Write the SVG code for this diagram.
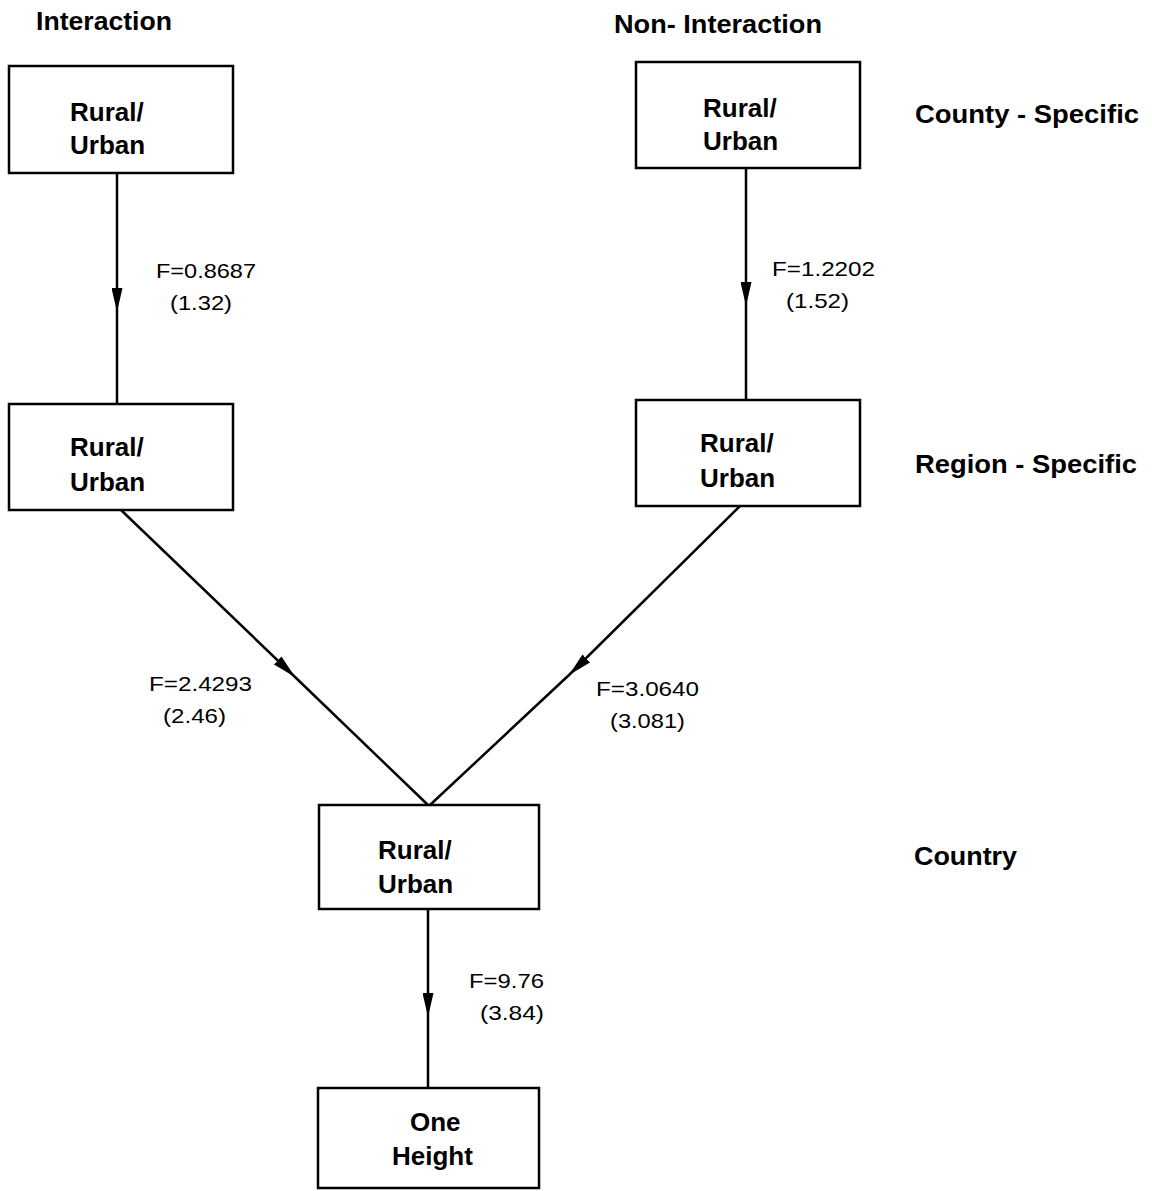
<svg xmlns="http://www.w3.org/2000/svg" width="1152" height="1191" viewBox="0 0 1152 1191">
<defs>
<marker id="arr" viewBox="0 0 24 11" markerWidth="24" markerHeight="11" refX="24" refY="5.5" orient="auto" markerUnits="userSpaceOnUse">
<path d="M0,0 L24,5.5 L0,11 Z" fill="#000"/>
</marker>
<style>
.box{fill:#fff;stroke:#000;stroke-width:2.5}
.bt{font-family:"Liberation Sans",Arial,sans-serif;font-weight:bold;font-size:26px;fill:#000}
.hd{font-family:"Liberation Sans",Arial,sans-serif;font-weight:bold;font-size:25px;fill:#000}
.lb{font-family:"Liberation Sans",Arial,sans-serif;font-size:21px;fill:#000}
.ln{fill:none;stroke:#000;stroke-width:2.5;marker-mid:url(#arr)}
</style>
</defs>
<rect width="1152" height="1191" fill="#fff"/>
<g id="headings">
<text class="hd" x="36" y="30" textLength="136" lengthAdjust="spacingAndGlyphs">Interaction</text>
<text class="hd" x="614" y="33" textLength="208" lengthAdjust="spacingAndGlyphs">Non- Interaction</text>
<text class="hd" x="915" y="123" textLength="224" lengthAdjust="spacingAndGlyphs">County - Specific</text>
<text class="hd" x="915" y="473" textLength="222" lengthAdjust="spacingAndGlyphs">Region - Specific</text>
<text class="hd" x="914" y="865" textLength="103" lengthAdjust="spacingAndGlyphs">Country</text>
</g>
<g id="connectors">
<path class="ln" d="M117,173 L117,312 L117,404"/>
<path class="ln" d="M746,168 L746,306 L746,400"/>
<path class="ln" d="M121,510 L295,677 L428,805"/>
<path class="ln" d="M740,506 L569,675 L430,805"/>
<path class="ln" d="M428,909 L428,1017 L428,1088"/>
</g>
<g id="edge-labels">
<text class="lb" x="156" y="278" textLength="100" lengthAdjust="spacingAndGlyphs">F=0.8687</text>
<text class="lb" x="170" y="310" textLength="62" lengthAdjust="spacingAndGlyphs">(1.32)</text>
<text class="lb" x="772" y="276" textLength="103" lengthAdjust="spacingAndGlyphs">F=1.2202</text>
<text class="lb" x="786" y="308" textLength="63" lengthAdjust="spacingAndGlyphs">(1.52)</text>
<text class="lb" x="149" y="691" textLength="103" lengthAdjust="spacingAndGlyphs">F=2.4293</text>
<text class="lb" x="163" y="723" textLength="63" lengthAdjust="spacingAndGlyphs">(2.46)</text>
<text class="lb" x="596" y="696" textLength="103" lengthAdjust="spacingAndGlyphs">F=3.0640</text>
<text class="lb" x="610" y="728" textLength="75" lengthAdjust="spacingAndGlyphs">(3.081)</text>
<text class="lb" x="469" y="988" textLength="75" lengthAdjust="spacingAndGlyphs">F=9.76</text>
<text class="lb" x="480" y="1020" textLength="64" lengthAdjust="spacingAndGlyphs">(3.84)</text>
</g>
<g id="node-tl">
<rect class="box" x="9" y="66" width="224" height="107"/>
<text class="bt" x="70" y="121">Rural/</text>
<text class="bt" x="70" y="154">Urban</text>
</g>
<g id="node-tr">
<rect class="box" x="636" y="62" width="224" height="106"/>
<text class="bt" x="703" y="117">Rural/</text>
<text class="bt" x="703" y="150">Urban</text>
</g>
<g id="node-ml">
<rect class="box" x="9" y="404" width="224" height="106"/>
<text class="bt" x="70" y="456">Rural/</text>
<text class="bt" x="70" y="491">Urban</text>
</g>
<g id="node-mr">
<rect class="box" x="636" y="400" width="224" height="106"/>
<text class="bt" x="700" y="452">Rural/</text>
<text class="bt" x="700" y="487">Urban</text>
</g>
<g id="node-c">
<rect class="box" x="319" y="805" width="220" height="104"/>
<text class="bt" x="378" y="859">Rural/</text>
<text class="bt" x="378" y="893">Urban</text>
</g>
<g id="node-b">
<rect class="box" x="318" y="1088" width="221" height="100"/>
<text class="bt" x="410" y="1131">One</text>
<text class="bt" x="392" y="1165">Height</text>
</g>
</svg>
